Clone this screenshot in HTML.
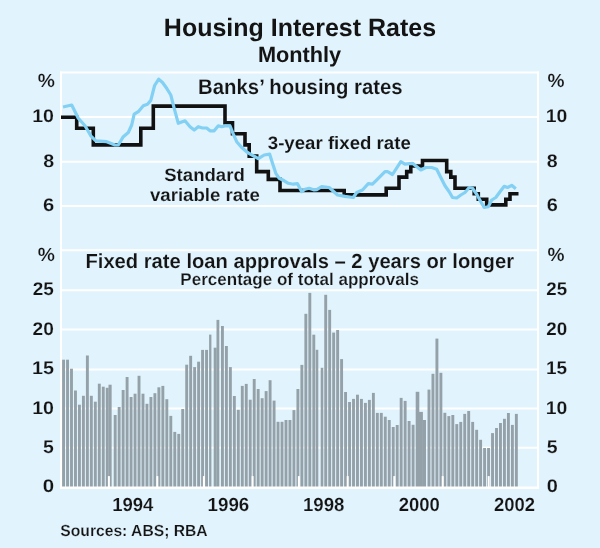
<!DOCTYPE html>
<html lang="en"><head><meta charset="utf-8"><title>Housing Interest Rates</title>
<style>html,body{margin:0;padding:0;background:#e1f3fd}svg{display:block}text{font-family:"Liberation Sans",Arial,Helvetica,sans-serif;fill:#141414;text-rendering:geometricPrecision}.m{font-weight:bold;stroke:#e1f3fd;stroke-width:.14px;paint-order:fill stroke}.n{font-weight:bold;stroke:#e1f3fd;stroke-width:.2px;paint-order:fill stroke}.d{font-weight:bold;stroke:#e1f3fd;stroke-width:.16px;paint-order:fill stroke}.b2{font-weight:bold;stroke:#e1f3fd;stroke-width:.08px;paint-order:fill stroke}.b{font-weight:bold}.p{font-weight:bold;stroke:#e1f3fd;stroke-width:.18px;paint-order:fill stroke}</style>
</head><body>
<svg width="600" height="548" viewBox="0 0 600 548">
<rect width="600" height="548" fill="#e1f3fd"/>
<g stroke="#fff" stroke-width="2" fill="none">
<line x1="61" x2="538" y1="117.1" y2="117.1"/>
<line x1="61" x2="538" y1="161.7" y2="161.7"/>
<line x1="61" x2="538" y1="205.9" y2="205.9"/>
<line x1="61" x2="538" y1="250.2" y2="250.2"/>
<line x1="61" x2="538" y1="290.3" y2="290.3"/>
<line x1="61" x2="538" y1="329.5" y2="329.5"/>
<line x1="61" x2="538" y1="369.4" y2="369.4"/>
<line x1="61" x2="538" y1="408.6" y2="408.6"/>
<line x1="61" x2="538" y1="447.7" y2="447.7"/>
</g>
<g fill="#95a1a8">
<rect x="62.10" y="359.7" width="2.90" height="127.3"/>
<rect x="66.07" y="359.7" width="2.90" height="127.3"/>
<rect x="70.04" y="368.7" width="2.90" height="118.3"/>
<rect x="74.02" y="390.5" width="2.90" height="96.5"/>
<rect x="77.99" y="404.7" width="2.90" height="82.3"/>
<rect x="81.96" y="395.8" width="2.90" height="91.2"/>
<rect x="85.93" y="355.5" width="2.90" height="131.5"/>
<rect x="89.90" y="395.8" width="2.90" height="91.2"/>
<rect x="93.88" y="401.7" width="2.90" height="85.3"/>
<rect x="97.85" y="383.7" width="2.90" height="103.3"/>
<rect x="101.82" y="386.7" width="2.90" height="100.3"/>
<rect x="105.79" y="387.8" width="2.90" height="99.2"/>
<rect x="108.50" y="384.7" width="3.15" height="102.3"/>
<rect x="113.74" y="415.0" width="2.90" height="72.0"/>
<rect x="117.71" y="407.0" width="2.90" height="80.0"/>
<rect x="121.68" y="390.0" width="2.90" height="97.0"/>
<rect x="125.65" y="377.0" width="2.90" height="110.0"/>
<rect x="129.62" y="397.0" width="2.90" height="90.0"/>
<rect x="133.60" y="393.7" width="2.90" height="93.3"/>
<rect x="137.57" y="375.8" width="2.90" height="111.2"/>
<rect x="141.54" y="393.7" width="2.90" height="93.3"/>
<rect x="145.51" y="403.8" width="2.90" height="83.2"/>
<rect x="149.48" y="397.0" width="2.90" height="90.0"/>
<rect x="153.46" y="393.2" width="2.90" height="93.8"/>
<rect x="157.43" y="387.3" width="2.90" height="99.7"/>
<rect x="161.40" y="385.9" width="2.90" height="101.1"/>
<rect x="165.37" y="399.2" width="2.90" height="87.8"/>
<rect x="169.34" y="415.9" width="2.90" height="71.1"/>
<rect x="173.32" y="431.9" width="2.90" height="55.1"/>
<rect x="177.29" y="433.9" width="2.90" height="53.1"/>
<rect x="181.26" y="409.0" width="2.90" height="78.0"/>
<rect x="185.23" y="364.7" width="2.90" height="122.3"/>
<rect x="189.20" y="355.8" width="2.90" height="131.2"/>
<rect x="193.18" y="367.1" width="2.90" height="119.9"/>
<rect x="197.15" y="361.7" width="2.90" height="125.3"/>
<rect x="201.12" y="349.9" width="2.90" height="137.1"/>
<rect x="205.09" y="349.9" width="2.90" height="137.1"/>
<rect x="209.10" y="334.6" width="2.30" height="152.4"/>
<rect x="213.70" y="347.7" width="3.00" height="139.3"/>
<rect x="216.50" y="319.9" width="2.80" height="167.1"/>
<rect x="220.98" y="326.0" width="2.90" height="161.0"/>
<rect x="224.95" y="346.0" width="2.90" height="141.0"/>
<rect x="228.92" y="367.1" width="2.90" height="119.9"/>
<rect x="232.90" y="396.0" width="2.90" height="91.0"/>
<rect x="236.87" y="409.8" width="2.90" height="77.2"/>
<rect x="240.84" y="385.9" width="2.90" height="101.1"/>
<rect x="244.81" y="383.9" width="2.90" height="103.1"/>
<rect x="248.78" y="399.7" width="2.90" height="87.3"/>
<rect x="252.76" y="379.0" width="2.90" height="108.0"/>
<rect x="256.73" y="389.0" width="2.90" height="98.0"/>
<rect x="260.70" y="398.2" width="2.90" height="88.8"/>
<rect x="264.67" y="391.1" width="2.90" height="95.9"/>
<rect x="268.64" y="380.2" width="2.90" height="106.8"/>
<rect x="272.62" y="400.6" width="2.90" height="86.4"/>
<rect x="276.59" y="421.8" width="2.90" height="65.2"/>
<rect x="280.56" y="421.8" width="2.90" height="65.2"/>
<rect x="284.53" y="420.0" width="2.90" height="67.0"/>
<rect x="288.50" y="420.0" width="2.90" height="67.0"/>
<rect x="292.48" y="410.1" width="2.90" height="76.9"/>
<rect x="296.45" y="389.0" width="2.90" height="98.0"/>
<rect x="300.42" y="364.9" width="2.90" height="122.1"/>
<rect x="304.39" y="313.8" width="2.90" height="173.2"/>
<rect x="308.36" y="292.9" width="2.90" height="194.1"/>
<rect x="312.34" y="334.7" width="2.90" height="152.3"/>
<rect x="315.70" y="349.8" width="2.60" height="137.2"/>
<rect x="320.70" y="367.8" width="2.60" height="119.2"/>
<rect x="324.25" y="294.8" width="2.90" height="192.2"/>
<rect x="328.22" y="309.9" width="2.90" height="177.1"/>
<rect x="332.20" y="332.6" width="2.90" height="154.4"/>
<rect x="336.17" y="330.0" width="2.90" height="157.0"/>
<rect x="340.14" y="359.1" width="2.90" height="127.9"/>
<rect x="344.11" y="392.0" width="2.90" height="95.0"/>
<rect x="348.08" y="402.0" width="2.90" height="85.0"/>
<rect x="352.06" y="398.9" width="2.90" height="88.1"/>
<rect x="356.03" y="394.7" width="2.90" height="92.3"/>
<rect x="360.00" y="398.9" width="2.90" height="88.1"/>
<rect x="363.97" y="402.9" width="2.90" height="84.1"/>
<rect x="367.94" y="399.9" width="2.90" height="87.1"/>
<rect x="371.92" y="392.9" width="2.90" height="94.1"/>
<rect x="375.89" y="412.9" width="2.90" height="74.1"/>
<rect x="379.86" y="412.9" width="2.90" height="74.1"/>
<rect x="383.83" y="416.7" width="2.90" height="70.3"/>
<rect x="387.80" y="420.0" width="2.90" height="67.0"/>
<rect x="391.78" y="427.0" width="2.90" height="60.0"/>
<rect x="395.75" y="425.0" width="2.90" height="62.0"/>
<rect x="399.72" y="397.9" width="2.90" height="89.1"/>
<rect x="403.69" y="400.9" width="2.90" height="86.1"/>
<rect x="407.66" y="421.0" width="2.90" height="66.0"/>
<rect x="411.64" y="424.8" width="2.90" height="62.2"/>
<rect x="415.70" y="391.8" width="3.60" height="95.2"/>
<rect x="419.00" y="411.9" width="3.90" height="75.1"/>
<rect x="422.60" y="420.0" width="3.40" height="67.0"/>
<rect x="427.52" y="389.6" width="2.90" height="97.4"/>
<rect x="431.50" y="373.8" width="2.90" height="113.2"/>
<rect x="435.47" y="338.6" width="2.90" height="148.4"/>
<rect x="439.44" y="372.8" width="2.90" height="114.2"/>
<rect x="443.41" y="412.8" width="2.90" height="74.2"/>
<rect x="447.38" y="416.1" width="2.90" height="70.9"/>
<rect x="451.36" y="415.0" width="2.90" height="72.0"/>
<rect x="455.33" y="424.1" width="2.90" height="62.9"/>
<rect x="459.30" y="421.9" width="2.90" height="65.1"/>
<rect x="463.27" y="413.9" width="2.90" height="73.1"/>
<rect x="467.24" y="411.0" width="2.90" height="76.0"/>
<rect x="471.22" y="421.9" width="2.90" height="65.1"/>
<rect x="475.19" y="429.8" width="2.90" height="57.2"/>
<rect x="479.16" y="439.8" width="2.90" height="47.2"/>
<rect x="483.13" y="448.0" width="2.90" height="39.0"/>
<rect x="487.10" y="448.0" width="2.90" height="39.0"/>
<rect x="491.08" y="433.1" width="2.90" height="53.9"/>
<rect x="495.05" y="428.0" width="2.90" height="59.0"/>
<rect x="499.02" y="423.0" width="2.90" height="64.0"/>
<rect x="502.99" y="418.8" width="2.90" height="68.2"/>
<rect x="506.96" y="413.0" width="2.90" height="74.0"/>
<rect x="510.94" y="424.9" width="2.90" height="62.1"/>
<rect x="514.91" y="413.9" width="2.90" height="73.1"/>
</g>
<g fill="#fff">
<rect x="107.9" y="476.1" width="2" height="11"/>
<rect x="156.3" y="476.1" width="2" height="11"/>
<rect x="202.9" y="476.1" width="2" height="11"/>
<rect x="251.6" y="476.1" width="2" height="11"/>
<rect x="297.9" y="476.1" width="2" height="11"/>
<rect x="346.7" y="476.1" width="2" height="11"/>
<rect x="393.3" y="476.1" width="2" height="11"/>
<rect x="441.7" y="476.1" width="2" height="11"/>
<rect x="487.7" y="476.1" width="2" height="11"/>
</g>
<g stroke="#fff" fill="none"><line x1="61" x2="61" y1="71.6" y2="489" stroke-width="2"/><line x1="538" x2="538" y1="71.6" y2="489" stroke-width="2"/><line x1="60" x2="539" y1="72.6" y2="72.6" stroke-width="2"/><line x1="60" x2="539" y1="487.75" y2="487.75" stroke-width="2.5"/></g>
<path d="M61,117.2 H76.7 V128.3 H93.3 V144.9 H140.8 V128.3 H153.3 V106.1 H225.0 V122.8 H232.5 V133.8 H245.0 V144.9 H249.2 V156.1 H256.7 V171.6 H268.3 V179.4 H280.0 V190.5 H344.2 V194.9 H386.2 V188.2 H399.0 V177.1 H406.7 V171.6 H410.8 V166.0 H422.5 V160.5 H446.7 V171.6 H450.8 V177.1 H455.0 V188.2 H474.2 V193.8 H478.3 V199.3 H486.7 V204.9 H505.8 V199.3 H510.0 V193.8 H518.5" fill="none" stroke="#111" stroke-width="3.6" stroke-linejoin="miter"/>
<polyline points="63.0,107.0 71.7,105.0 78.3,118.3 85.0,125.8 90.8,135.8 95.8,140.8 106.7,141.7 115.0,145.0 118.3,145.0 123.3,136.7 128.3,132.5 131.7,125.0 134.2,114.2 138.3,111.7 143.3,105.8 147.5,104.2 150.8,100.4 154.6,85.5 158.7,79.1 162.5,82.5 166.7,88.3 170.8,95.0 174.2,108.3 178.3,123.3 185.0,120.8 190.0,126.7 194.2,130.0 198.3,126.7 202.5,128.0 206.7,128.0 210.0,130.8 214.2,130.8 218.3,125.8 221.7,126.7 225.8,125.8 230.0,125.8 233.3,134.2 236.7,141.7 241.7,147.5 247.5,152.5 252.5,155.3 258.3,158.7 264.2,155.0 269.7,154.2 272.5,163.3 275.8,173.3 279.2,178.3 284.2,180.8 288.3,183.3 293.3,184.2 297.5,183.7 301.7,191.7 305.0,189.2 309.2,188.3 314.2,190.0 316.7,189.7 321.7,186.7 329.2,187.5 337.5,195.0 345.0,196.3 353.3,197.5 356.7,192.5 362.5,190.0 368.3,183.7 372.5,184.2 378.3,178.3 385.0,171.7 387.5,171.7 392.5,174.5 400.8,161.7 405.0,164.2 412.5,163.3 420.8,170.0 425.8,167.5 431.7,167.5 436.7,169.2 440.8,177.5 445.0,185.8 449.2,191.7 452.5,197.5 456.7,198.0 460.8,195.0 465.0,192.5 469.2,187.5 472.5,188.3 476.7,194.2 480.8,201.7 484.2,207.5 488.3,206.7 491.7,200.0 495.8,197.5 500.0,191.7 504.2,186.3 507.5,187.5 511.7,185.3 515.8,188.7" fill="none" stroke="#82d0f3" stroke-width="3.2" stroke-linejoin="round" stroke-linecap="butt"/>
<text x="163.85" y="35.8" font-size="25.1" class="b" textLength="272.26" lengthAdjust="spacingAndGlyphs">Housing Interest Rates</text>
<text x="257.98" y="61.7" font-size="22" class="b" textLength="83.22" lengthAdjust="spacingAndGlyphs">Monthly</text>
<text x="198.11" y="93.7" font-size="21.2" class="m" textLength="204.57" lengthAdjust="spacingAndGlyphs">Banks’ housing rates</text>
<text x="267.79" y="148.8" font-size="18" class="b2" textLength="142.98" lengthAdjust="spacingAndGlyphs">3-year fixed rate</text>
<text x="164.23" y="180.7" font-size="18" class="m" textLength="80.55" lengthAdjust="spacingAndGlyphs">Standard</text>
<text x="149.90" y="201.0" font-size="18" class="m" textLength="109.94" lengthAdjust="spacingAndGlyphs">variable rate</text>
<text x="85.44" y="267.7" font-size="20.4" class="m" textLength="428.57" lengthAdjust="spacingAndGlyphs">Fixed rate loan approvals – 2 years or longer</text>
<text x="180.39" y="285.0" font-size="17" class="n" textLength="238.49" lengthAdjust="spacingAndGlyphs">Percentage of total approvals</text>
<text x="60.35" y="536.1" font-size="16" class="n" textLength="147.26" lengthAdjust="spacingAndGlyphs">Sources: ABS; RBA</text>
<text x="37.65" y="87.2" font-size="19" class="p" textLength="17.14" lengthAdjust="spacingAndGlyphs">%</text>
<text x="547.43" y="87.2" font-size="19" class="p" textLength="17.06" lengthAdjust="spacingAndGlyphs">%</text>
<text x="37.65" y="260.9" font-size="19" class="p" textLength="17.14" lengthAdjust="spacingAndGlyphs">%</text>
<text x="547.43" y="260.9" font-size="19" class="p" textLength="17.06" lengthAdjust="spacingAndGlyphs">%</text>
<text x="32.22" y="122.1" font-size="18.2" class="d" textLength="21.78" lengthAdjust="spacingAndGlyphs">10</text>
<text x="545.76" y="122.1" font-size="18.2" class="d" textLength="21.59" lengthAdjust="spacingAndGlyphs">10</text>
<text x="43.24" y="166.7" font-size="18.2" class="d" textLength="10.93" lengthAdjust="spacingAndGlyphs">8</text>
<text x="546.76" y="166.7" font-size="18.2" class="d" textLength="10.92" lengthAdjust="spacingAndGlyphs">8</text>
<text x="43.00" y="210.9" font-size="18.2" class="d" textLength="11.22" lengthAdjust="spacingAndGlyphs">6</text>
<text x="546.71" y="210.9" font-size="18.2" class="d" textLength="11.09" lengthAdjust="spacingAndGlyphs">6</text>
<text x="32.74" y="295.2" font-size="18.2" class="d" textLength="21.09" lengthAdjust="spacingAndGlyphs">25</text>
<text x="546.28" y="295.2" font-size="18.2" class="d" textLength="20.85" lengthAdjust="spacingAndGlyphs">25</text>
<text x="32.64" y="334.5" font-size="18.2" class="d" textLength="21.25" lengthAdjust="spacingAndGlyphs">20</text>
<text x="546.38" y="334.5" font-size="18.2" class="d" textLength="20.95" lengthAdjust="spacingAndGlyphs">20</text>
<text x="32.12" y="374.4" font-size="18.2" class="d" textLength="22.00" lengthAdjust="spacingAndGlyphs">15</text>
<text x="546.02" y="374.4" font-size="18.2" class="d" textLength="21.11" lengthAdjust="spacingAndGlyphs">15</text>
<text x="32.22" y="413.7" font-size="18.2" class="d" textLength="21.78" lengthAdjust="spacingAndGlyphs">10</text>
<text x="545.76" y="413.7" font-size="18.2" class="d" textLength="21.59" lengthAdjust="spacingAndGlyphs">10</text>
<text x="43.13" y="452.7" font-size="18.2" class="d" textLength="10.81" lengthAdjust="spacingAndGlyphs">5</text>
<text x="546.65" y="452.7" font-size="18.2" class="d" textLength="10.84" lengthAdjust="spacingAndGlyphs">5</text>
<text x="42.84" y="492.3" font-size="18.2" class="d" textLength="11.39" lengthAdjust="spacingAndGlyphs">0</text>
<text x="546.65" y="492.3" font-size="18.2" class="d" textLength="11.12" lengthAdjust="spacingAndGlyphs">0</text>
<text x="112.17" y="510.5" font-size="19" class="d" textLength="41.26" lengthAdjust="spacingAndGlyphs">1994</text>
<text x="207.52" y="510.5" font-size="19" class="d" textLength="41.76" lengthAdjust="spacingAndGlyphs">1996</text>
<text x="302.99" y="510.5" font-size="19" class="d" textLength="41.50" lengthAdjust="spacingAndGlyphs">1998</text>
<text x="398.68" y="510.5" font-size="19" class="d" textLength="41.07" lengthAdjust="spacingAndGlyphs">2000</text>
<text x="493.95" y="510.5" font-size="19" class="d" textLength="41.06" lengthAdjust="spacingAndGlyphs">2002</text>
</svg>
</body></html>
